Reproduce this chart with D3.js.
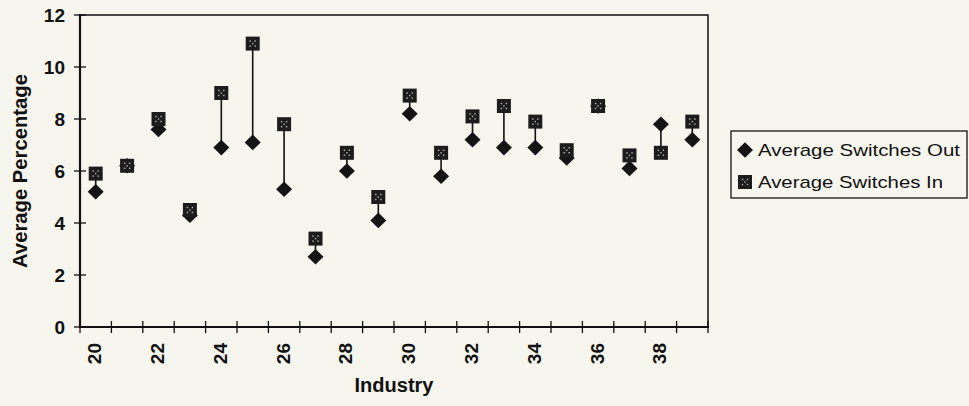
<!DOCTYPE html>
<html>
<head>
<meta charset="utf-8">
<script src="https://cdn.jsdelivr.net/npm/d3@7"></script>
<style>
  html, body { margin: 0; padding: 0; background: #f6f6ee; }
  svg { display: block; }
  text { font-family: Arial, "Liberation Sans", Helvetica, sans-serif; fill: #111; }
</style>
</head>
<body>
<svg id="chart" width="969" height="406"></svg>
<script>
// Industry codes on the category axis
const industries = [20, 21, 22, 23, 24, 25, 26, 27, 28, 29, 30, 31, 32, 33, 34, 35, 36, 37, 38, 39];
// Average percentage of switches out of / into each industry
const switchesOut = [5.2, 6.2, 7.6, 4.3, 6.9, 7.1, 5.3, 2.7, 6.0, 4.1, 8.2, 5.8, 7.2, 6.9, 6.9, 6.5, 8.5, 6.1, 7.8, 7.2];
const switchesIn  = [5.9, 6.2, 8.0, 4.5, 9.0, 10.9, 7.8, 3.4, 6.7, 5.0, 8.9, 6.7, 8.1, 8.5, 7.9, 6.8, 8.5, 6.6, 6.7, 7.9];
const yTicks = [0, 2, 4, 6, 8, 10, 12];
const xLabelTicks = [20, 22, 24, 26, 28, 30, 32, 34, 36, 38];
const seriesNames = ["Average Switches Out", "Average Switches In"];

const svg = d3.select("#chart");
const plotLeft = 80, plotRight = 708, plotTop = 15, plotBottom = 327;

const x = d3.scaleBand().domain(industries).range([plotLeft, plotRight]).padding(0);
const y = d3.scaleLinear().domain([0, 12]).range([plotBottom, plotTop]);

const ink = "#111";

// plot frame (top and right edges)
svg.append("path")
  .attr("d", `M${plotLeft},${plotTop}H${plotRight}V${plotBottom}`)
  .attr("fill", "none").attr("stroke", ink).attr("stroke-width", 1.5);

// y axis
const yAxis = svg.append("g").attr("transform", `translate(${plotLeft},0)`)
  .call(d3.axisLeft(y).tickValues(yTicks).tickSize(0).tickPadding(15).tickFormat(d3.format("d")));
yAxis.select(".domain").remove();
yAxis.selectAll("text").attr("font-size", 19).attr("font-weight", "bold").attr("dy", "0.36em");
svg.append("g").selectAll("line").data(yTicks).join("line")
  .attr("x1", plotLeft - 6).attr("x2", plotLeft + 6)
  .attr("y1", d => y(d)).attr("y2", d => y(d))
  .attr("stroke", ink).attr("stroke-width", 1.3);
svg.append("line").attr("x1", plotLeft).attr("x2", plotLeft).attr("y1", plotTop - 1).attr("y2", plotBottom + 1)
  .attr("stroke", ink).attr("stroke-width", 2.2);

// x axis: labels on every other category, tick marks at category boundaries
const xAxis = svg.append("g").attr("transform", `translate(0,${plotBottom})`)
  .call(d3.axisBottom(x).tickValues(xLabelTicks).tickSize(0).tickPadding(0));
xAxis.select(".domain").remove();
xAxis.selectAll("text")
  .attr("font-size", 19).attr("font-weight", "bold")
  .attr("text-anchor", "end")
  .attr("dy", null)
  .attr("transform", "translate(-1,16) rotate(-90)")
  .attr("dominant-baseline", "central");
const boundaries = industries.map(d => x(d)).concat([x(industries[industries.length - 1]) + x.bandwidth()]);
svg.append("g").selectAll("line").data(boundaries).join("line")
  .attr("x1", d => d).attr("x2", d => d)
  .attr("y1", plotBottom - 6).attr("y2", plotBottom + 6)
  .attr("stroke", ink).attr("stroke-width", 1.3);
svg.append("line").attr("x1", plotLeft - 1).attr("x2", plotRight + 1).attr("y1", plotBottom).attr("y2", plotBottom)
  .attr("stroke", ink).attr("stroke-width", 2.2);

// axis titles
svg.append("text").text("Industry")
  .attr("x", (plotLeft + plotRight) / 2).attr("y", 392)
  .attr("text-anchor", "middle").attr("font-size", 20).attr("font-weight", "bold");
svg.append("text").text("Average Percentage")
  .attr("transform", `translate(27,${(plotTop + plotBottom) / 2}) rotate(-90)`)
  .attr("text-anchor", "middle").attr("font-size", 20).attr("font-weight", "bold")
  .attr("textLength", 194).attr("lengthAdjust", "spacingAndGlyphs");

const data = industries.map((c, i) => ({ c, out: switchesOut[i], inn: switchesIn[i] }));
const cx = d => x(d.c) + x.bandwidth() / 2;

// high-low connector lines
svg.append("g").selectAll("line").data(data).join("line")
  .attr("x1", cx).attr("x2", cx)
  .attr("y1", d => y(d.out)).attr("y2", d => y(d.inn))
  .attr("stroke", ink).attr("stroke-width", 1.6);

// marker shapes
function diamond(g) {
  g.append("path").attr("d", "M0,-7.8L8,0L0,7.8L-8,0Z").attr("fill", "#141414");
}
function square(g) {
  g.append("rect").attr("x", -7).attr("y", -7).attr("width", 14).attr("height", 14)
    .attr("fill", "#1c1c1c");
  const dots = [[-2.5, -2.5], [2.5, -2.5], [0, 0], [-2.5, 2.5], [2.5, 2.5]];
  dots.forEach(([dx, dy]) => {
    g.append("rect").attr("x", dx - 0.7).attr("y", dy - 0.7).attr("width", 1.4).attr("height", 1.4)
      .attr("fill", "#b8b8b0");
  });
}

svg.append("g").selectAll("g").data(data).join("g")
  .attr("transform", d => `translate(${cx(d)},${y(d.out)})`)
  .each(function () { diamond(d3.select(this)); });
svg.append("g").selectAll("g").data(data).join("g")
  .attr("transform", d => `translate(${cx(d)},${y(d.inn)})`)
  .each(function () { square(d3.select(this)); });

// legend
const legend = svg.append("g");
legend.append("rect").attr("x", 731).attr("y", 131).attr("width", 236).attr("height", 67)
  .attr("fill", "#f6f6ee").attr("stroke", ink).attr("stroke-width", 1.3);
const rows = [
  { name: seriesNames[0], draw: diamond, y: 150, len: 202 },
  { name: seriesNames[1], draw: square, y: 182, len: 185 }
];
rows.forEach(r => {
  const m = legend.append("g").attr("transform", `translate(745,${r.y})`);
  r.draw(m);
  legend.append("text").text(r.name)
    .attr("x", 758).attr("y", r.y + 6)
    .attr("font-size", 17)
    .attr("textLength", r.len).attr("lengthAdjust", "spacingAndGlyphs");
});
</script>
</body>
</html>
